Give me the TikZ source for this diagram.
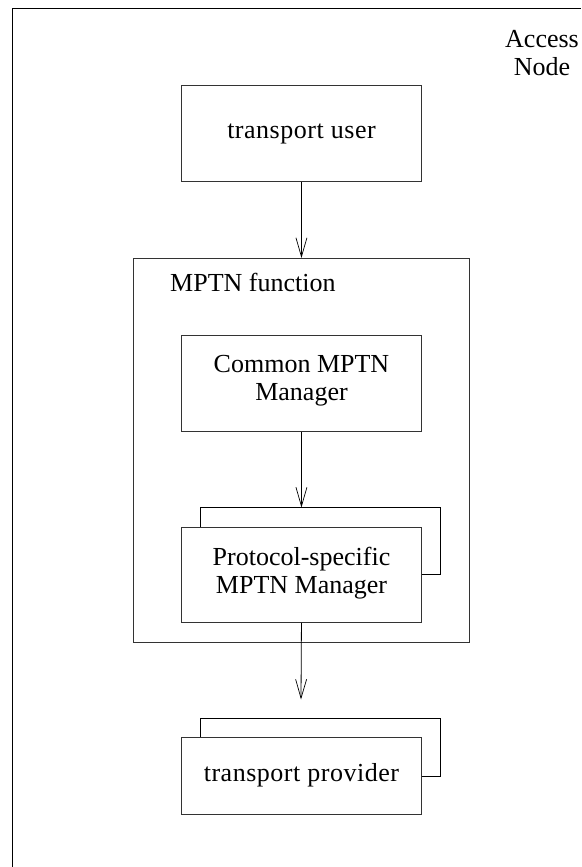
\documentclass[tikz,border=0pt]{standalone}
\usepackage{fontspec}
\setmainfont{Liberation Serif}
\newfontfamily\widefont[LetterSpace=2]{Liberation Serif}
\usetikzlibrary{arrows.meta}
\tikzset{
  x=1pt,y=-1pt,
  box/.style={draw=black!80,line width=0.9pt,fill=white,anchor=north west,inner sep=0pt},
  back/.style={draw=black,line width=0.8pt},
  label/.style={font=\fontsize{26}{28}\selectfont,align=center,inner sep=0pt},
  widelabel/.style={font=\widefont\fontsize{26}{28}\selectfont,align=center,inner sep=0pt},
  flow/.style={draw=black,line width=0.8pt,-{Straight Barb[length=19pt,width=11pt,line width=0.7pt]}}
}
\begin{document}
\begin{tikzpicture}
\useasboundingbox (0,0) rectangle (581,867);
\fill[white] (0,0) rectangle (581,867);
\draw[line width=0.9pt] (12.5,867) -- (12.5,8.5) -- (581,8.5);
\node[label] (access) at (542,53) {Access\\Node};
\node[box,minimum width=240pt,minimum height=96pt] (user) at (181,85) {};
\node[widelabel,anchor=base] (userl) at (301.5,138) {transport user};
\node[box,minimum width=336pt,minimum height=384pt] (fn) at (133,258) {};
\node[label,anchor=base west] (fnl) at (170,291) {MPTN function};
\node[box,minimum width=240pt,minimum height=96pt] (common) at (181,335) {};
\node[label] (commonl) at (301.5,380.5) {Common MPTN\\Manager};
\draw[back] (200,527) -- (200,507.5) coordinate (ptop) -- (440.5,507.5) -- (440.5,574.5) -- (421,574.5);
\node[box,minimum width=240pt,minimum height=95pt] (proto) at (181,527) {};
\node[label] (protol) at (301.5,573) {Protocol-specific\\MPTN Manager};
\draw[back] (200,737) -- (200,718.5) -- (440.5,718.5) -- (440.5,776.5) -- (421,776.5);
\node[box,minimum width=240pt,minimum height=77pt] (prov) at (181,737) {};
\node[widelabel,anchor=base] (provl) at (301.5,781) {transport provider};
\coordinate (fnin) at (user.south |- fn.north);
\draw[flow] (user.south) -- (fnin);
\coordinate (protoin) at (common.south |- ptop);
\draw[flow] (common.south) -- (protoin);
\coordinate (free) at (301,699.5);
\draw[flow] (proto.south) -- (free);
\end{tikzpicture}
\end{document}
